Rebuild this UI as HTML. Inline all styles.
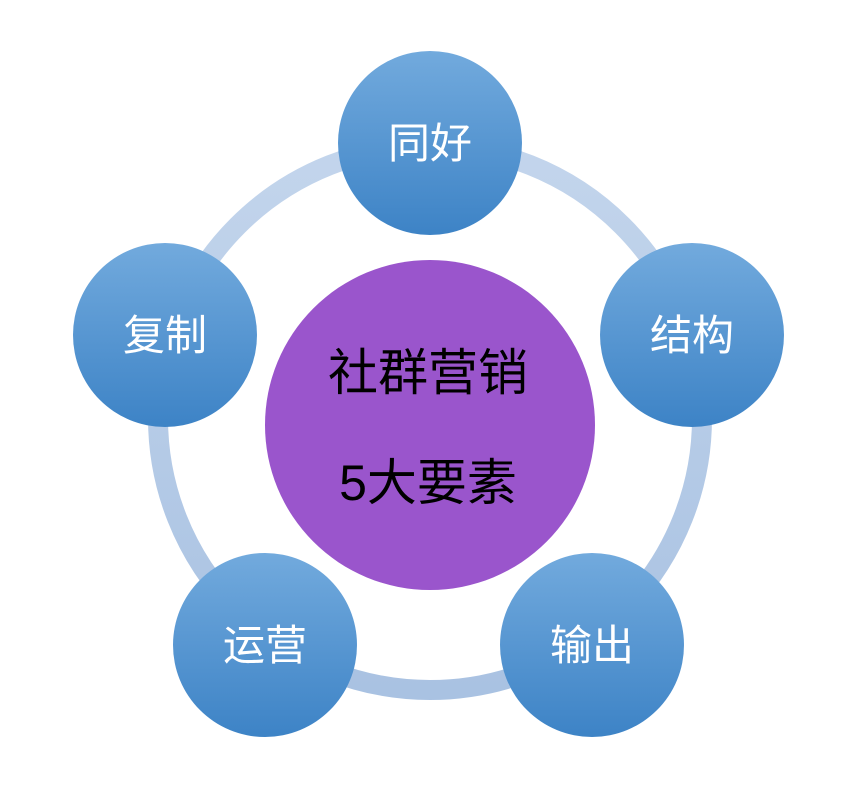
<!DOCTYPE html>
<html><head><meta charset="utf-8"><style>
html,body{margin:0;padding:0;background:#fff;}
body{width:865px;height:803px;overflow:hidden;}
text{font-family:"Liberation Sans","Noto Sans CJK SC",sans-serif;}
</style></head><body>
<svg width="865" height="803" viewBox="0 0 865 803" xmlns="http://www.w3.org/2000/svg">
<defs>
<linearGradient id="g" x1="0" y1="0" x2="0" y2="1">
<stop offset="0" stop-color="#72aadd"/>
<stop offset="1" stop-color="#3d83c6"/>
</linearGradient>
<linearGradient id="r" x1="0" y1="0" x2="0" y2="1">
<stop offset="0" stop-color="#c3d5ec"/>
<stop offset="1" stop-color="#a9c2e2"/>
</linearGradient>
</defs>
<circle cx="430" cy="418" r="272" fill="none" stroke="url(#r)" stroke-width="20"/>
<circle cx="430" cy="425" r="165" fill="#9a55cc"/>
<text x="428" y="390" font-size="50" text-anchor="middle" fill="#000">社群营销</text>
<text x="428" y="500" font-size="50" text-anchor="middle" fill="#000">5大要素</text>
<g fill="url(#g)">
<circle cx="430" cy="143" r="92"/>
<circle cx="692" cy="335" r="92"/>
<circle cx="592" cy="645" r="92"/>
<circle cx="265" cy="645" r="92"/>
<circle cx="165" cy="335" r="92"/>
</g>
<g font-size="42" fill="#fff" text-anchor="middle">
<text x="430" y="158">同好</text>
<text x="692" y="350">结构</text>
<text x="592" y="660">输出</text>
<text x="265" y="660">运营</text>
<text x="165" y="350">复制</text>
</g>
</svg>
</body></html>
